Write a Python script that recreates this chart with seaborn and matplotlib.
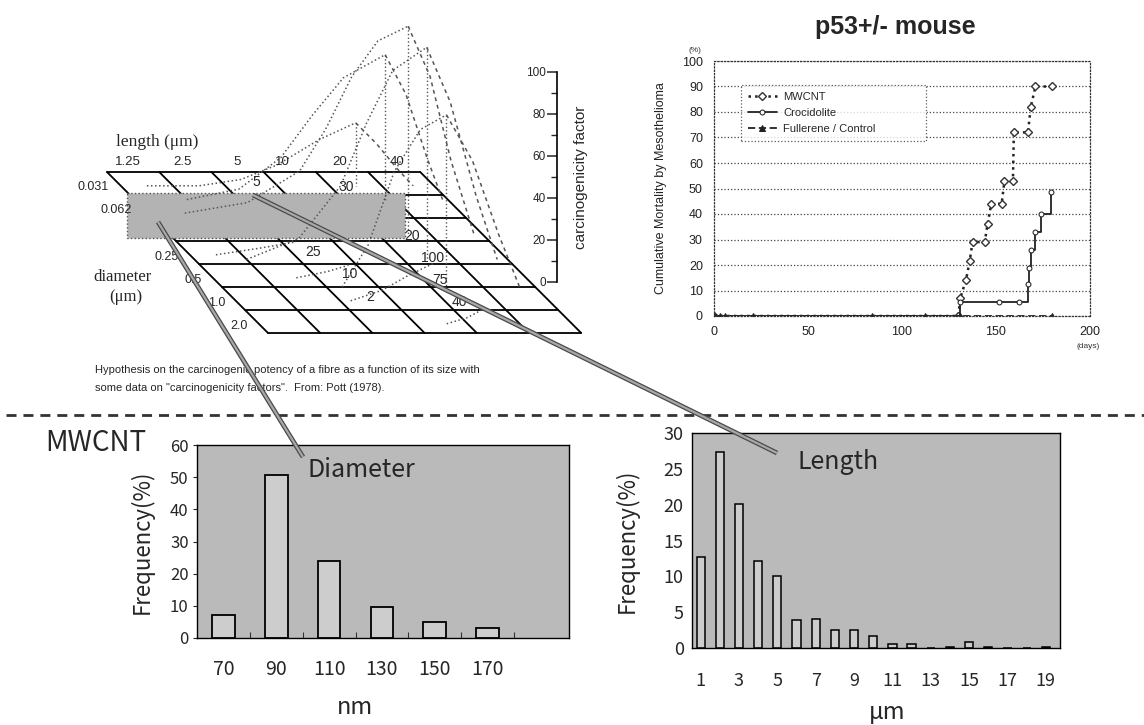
import matplotlib
matplotlib.use("Agg")
import matplotlib.pyplot as plt
from matplotlib.patches import Rectangle
import seaborn as sns

# ---------------- data ----------------
diam_cats = ['70', '90', '110', '130', '150', '170']
diam_freq = [7.1, 50.8, 24.0, 9.6, 4.9, 3.2]

len_cats = ['1', '2', '3', '4', '5', '6', '7', '8', '9', '10',
            '11', '12', '13', '14', '15', '16', '17', '18', '19']
len_freq = [12.7, 27.3, 20.1, 12.2, 10.1, 3.9, 4.05, 2.45, 2.45, 1.65,
            0.6, 0.6, 0.0, 0.2, 0.9, 0.2, 0.0, 0.0, 0.2]
len_ticklabels = ['1', '3', '5', '7', '9', '11', '13', '15', '17', '19']

mw_days = [0, 130, 131, 134, 136, 137.5, 144, 145.5, 147.5, 153, 154.5,
           159, 159.5, 167, 168.5, 171, 180]
mw_vals = [0, 0, 7, 14, 21.5, 29, 29, 36, 44, 44, 53, 53, 72, 72, 82, 90, 90]
cro_days = [0, 131, 151.7, 162, 167, 167.5, 168.5, 171, 174, 179]
cro_vals = [0, 5.6, 5.6, 5.6, 12.5, 19, 26, 33, 40, 48.6]
ctl_days = [0, 3, 6, 21, 84, 112, 131, 180]
ctl_vals = [0, 0, 0, 0, 0, 0, 0, 0]

# schematic (Pott 1978) diagram
length_labels = ['1.25', '2.5', '5', '10', '20', '40']
length_label_u = [0.6, 1.65, 2.7, 3.55, 4.65, 5.75]
diam_labels = ['0.031', '0.062', '0.25', '0.5', '1.0', '2.0']
diam_label_v = [0.65, 1.65, 3.7, 4.7, 5.7, 6.7]
factor_txt = ['5', '30', '20', '25', '100', '10', '75', '2', '40']
factor_u = [2.68, 4.3, 4.63, 2.41, 4.6, 2.68, 4.31, 2.64, 4.27]
factor_v = [0.43, 0.65, 2.77, 3.48, 3.72, 4.45, 4.68, 5.43, 5.65]
curve_rows = [0.6, 1.2, 2.7, 3.8, 5.0]
curve_rise_u = [[0.5, 1.5, 2.3, 3.0, 3.8, 4.5],
                [1.0, 2.0, 2.8, 3.4, 4.0, 4.8],
                [0.3, 1.5, 2.5, 3.0, 3.5, 4.0, 4.58],
                [1.0, 2.0, 2.8, 3.3, 3.8, 4.45],
                [2.3, 2.8, 3.3, 3.8, 4.3]]
curve_rise_z = [[0, 0, 3, 10, 22, 30],
                [0, 5, 20, 40, 58, 69],
                [10, 15, 30, 50, 75, 92, 99],
                [0, 10, 35, 65, 90, 101],
                [0, 20, 55, 75, 82]]
curve_fall_u = [[4.5, 4.9, 5.3, 5.6],
                [4.8, 5.2, 5.6, 5.9],
                [4.58, 5.0, 5.4, 5.84],
                [4.45, 4.9, 5.4, 5.8],
                [4.3, 4.8, 5.3, 5.7]]
curve_fall_z = [[30, 20, 8, 0],
                [69, 50, 20, 0],
                [99, 75, 35, 0],
                [101, 75, 30, 0],
                [82, 60, 25, 0]]
low_rows = [3.6, 4.6, 5.6, 6.6]
low_u = [[0.5, 1.3, 2.0], [1.6, 2.2, 2.6], [2.2, 2.8, 3.3, 3.8], [3.6, 4.0, 4.3]]
low_z = [[0, 3, 6], [0, 3, 6], [0, 5, 12, 18], [0, 3, 7]]

# ---------------- style ----------------
sns.set_theme(style="white")
plt.rcParams['font.family'] = ['Liberation Sans', 'DejaVu Sans']
JP = ['Noto Sans CJK JP', 'DejaVu Sans']
SERIF = ['Liberation Serif', 'DejaVu Serif']

W, H = 1144, 725
fig = plt.figure(figsize=(W / 100, H / 100), dpi=100)
fig.patch.set_facecolor('white')


def rect(l, t, r, b):
    return [l / W, 1 - b / H, (r - l) / W, (b - t) / H]


# ---------------- mortality chart ----------------
ax_m = fig.add_axes(rect(714, 61, 1090, 316))
ax_m.set_facecolor('white')
sns.lineplot(x=mw_days, y=mw_vals, ax=ax_m, color='#222222', linestyle=':',
             linewidth=1.8, marker='D', markersize=4.5, markerfacecolor='white',
             markeredgecolor='#333333', markeredgewidth=1.0,
             estimator=None, label='MWCNT')
sns.lineplot(x=cro_days, y=cro_vals, ax=ax_m, color='#222222', linestyle='-',
             linewidth=1.3, marker='o', markersize=3.5, markerfacecolor='white',
             markeredgecolor='#222222', drawstyle='steps-post',
             estimator=None, label='Crocidolite')
sns.lineplot(x=ctl_days, y=ctl_vals, ax=ax_m, color='#222222', linestyle=(0, (4, 2)),
             linewidth=1.3, marker='^', markersize=4, markerfacecolor='#222222',
             markeredgecolor='#222222', estimator=None, label='Fullerene / Control')
ax_m.set_xlim(0, 200)
ax_m.set_ylim(0, 100)
ax_m.set_xticks([0, 50, 100, 150, 200])
ax_m.set_yticks(range(0, 101, 10))
ax_m.tick_params(axis='both', length=0, labelsize=9, colors='#222222')
ax_m.tick_params(axis='y', pad=8)
ax_m.tick_params(axis='x', pad=7)
ax_m.yaxis.grid(True, linestyle=':', color='#444444', linewidth=0.9)
ax_m.xaxis.grid(False)
for s in ax_m.spines.values():
    s.set_linestyle(':')
    s.set_color('#333333')
    s.set_linewidth(0.9)
ax_m.set_xlabel('')
ax_m.set_ylabel('Cumulative Mortality by Mesothelioma', fontsize=9, color='#222222')
ax_m.yaxis.set_label_coords((667 - 714) / 376, 0.5)
leg = ax_m.legend(loc='upper left', bbox_to_anchor=(0.072, 0.678, 0.492, 0.228),
                  mode='expand', borderaxespad=0, fontsize=8, frameon=True,
                  fancybox=False, handlelength=2.6, labelspacing=0.55,
                  borderpad=0.6, handletextpad=0.6)
leg.get_frame().set_linestyle(':')
leg.get_frame().set_edgecolor('#333333')
leg.get_frame().set_linewidth(0.9)
fig.text(695 / W, 1 - 50 / H, '(%)', fontsize=6, ha='center', va='center', color='#333')
fig.text(1088 / W, 1 - 346 / H, '(days)', fontsize=6, ha='center', va='center', color='#333')
fig.text(895 / W, 1 - 27 / H, 'p53+/- mouse', fontsize=18, fontweight='bold',
         ha='center', va='center')

# ---------------- diameter histogram ----------------
ax_d = fig.add_axes(rect(197, 445, 569, 638))
ax_d.set_facecolor('#bababa')
sns.barplot(x=diam_cats, y=diam_freq, ax=ax_d, color='#cdcdcd', saturation=1,
            edgecolor='black', linewidth=1.3, width=0.43)
ax_d.set_xlim(-0.5, 6.54)
ax_d.set_ylim(0, 60)
ax_d.set_yticks(range(0, 61, 10))
ax_d.set_xticks([0.5, 1.5, 2.5, 3.5, 4.5, 5.5], minor=True)
ax_d.tick_params(axis='x', which='major', length=0, pad=15, labelsize=14)
ax_d.tick_params(axis='x', which='minor', direction='in', length=4, width=0.8,
                 color='#333', bottom=True)
ax_d.tick_params(axis='y', length=3, width=0.8, direction='out', left=True,
                 pad=3, labelsize=12)
for lab in ax_d.get_xticklabels() + ax_d.get_yticklabels():
    lab.set_family(JP)
for s in ax_d.spines.values():
    s.set_color('black')
    s.set_linewidth(1.0)
ax_d.set_xlabel('')
ax_d.set_ylabel('Frequency(%)', fontsize=16, family=JP)
ax_d.yaxis.set_label_coords((154 - 197) / 372, 0.5)
fig.text(355 / W, 1 - 707 / H, 'nm', fontsize=17, family=JP, ha='center', va='center')
fig.text(45 / W, 1 - 443 / H, 'MWCNT', fontsize=20, family=JP, ha='left', va='center')
fig.text(308 / W, 1 - 470 / H, 'Diameter', fontsize=18, family=JP, ha='left', va='center')

# ---------------- length histogram ----------------
ax_l = fig.add_axes(rect(692, 433, 1060, 648))
ax_l.set_facecolor('#bababa')
sns.barplot(x=len_cats, y=len_freq, ax=ax_l, color='#cdcdcd', saturation=1,
            edgecolor='black', linewidth=1.1, width=0.43)
ax_l.set_xlim(-0.45, 18.74)
ax_l.set_ylim(0, 30)
ax_l.set_yticks(range(0, 31, 5))
ax_l.set_xticks(range(0, 19, 2))
ax_l.set_xticklabels(len_ticklabels)
ax_l.tick_params(axis='x', length=0, pad=17, labelsize=13)
ax_l.tick_params(axis='y', length=0, pad=6, labelsize=13)
for lab in ax_l.get_xticklabels() + ax_l.get_yticklabels():
    lab.set_family(JP)
for s in ax_l.spines.values():
    s.set_color('black')
    s.set_linewidth(1.0)
ax_l.set_xlabel('')
ax_l.set_ylabel('Frequency(%)', fontsize=16, family=JP)
ax_l.yaxis.set_label_coords((639 - 692) / 368, 0.5)
fig.text(887 / W, 1 - 712 / H, 'μm', fontsize=17, family=JP, ha='center', va='center')
fig.text(797 / W, 1 - 462 / H, 'Length', fontsize=18, family=JP, ha='left', va='center')

# ---------------- carcinogenicity axis ----------------
ax_c = fig.add_axes(rect(557, 72, 559, 282))
ax_c.patch.set_alpha(0)
for k in ['top', 'right', 'bottom']:
    ax_c.spines[k].set_visible(False)
ax_c.spines['left'].set_color('black')
ax_c.spines['left'].set_linewidth(1.2)
ax_c.set_ylim(0, 100)
ax_c.set_yticks(range(0, 101, 20))
ax_c.set_yticks(range(10, 100, 20), minor=True)
ax_c.set_xticks([])
ax_c.tick_params(axis='y', which='major', left=True, length=7, width=1.1,
                 labelsize=8.5, pad=1, direction='out')
ax_c.tick_params(axis='y', which='minor', left=True, length=4, width=1.0,
                 direction='out')
ax_c.yaxis.set_label_position('right')
ax_c.set_ylabel('carcinogenicity factor', fontsize=11, labelpad=11)

# ---------------- overlay: schematic, separators, connectors ----------------
ax_o = fig.add_axes([0, 0, 1, 1])
ax_o.set_xlim(0, W)
ax_o.set_ylim(H, 0)
ax_o.axis('off')
ax_o.patch.set_alpha(0)

X0, Y0, DU, DV, ZS = 107, 172, 52.2, 23.0, 2.1


def proj(u, v, z=0.0):
    return X0 + u * DU + v * DV, Y0 + v * DV - z * ZS


for v in range(8):
    (xa, ya), (xb, yb) = proj(0, v), proj(6, v)
    ax_o.plot([xa, xb], [ya, yb], color='black', lw=1.3, zorder=2)
for u in range(7):
    (xa, ya), (xb, yb) = proj(u, 0), proj(u, 7)
    ax_o.plot([xa, xb], [ya, yb], color='black', lw=1.3, zorder=2)

ax_o.add_patch(Rectangle((127, 193), 278, 45, facecolor='#b3b3b3',
                         edgecolor='#555555', linestyle=':', lw=1.0, zorder=3))

for v, ru, rz, fu, fz in zip(curve_rows, curve_rise_u, curve_rise_z,
                             curve_fall_u, curve_fall_z):
    pts = [proj(a, v, b) for a, b in zip(ru, rz)]
    ax_o.plot([p[0] for p in pts], [p[1] for p in pts], color='#555555',
              lw=1.1, ls=':', zorder=4)
    pts = [proj(a, v, b) for a, b in zip(fu, fz)]
    ax_o.plot([p[0] for p in pts], [p[1] for p in pts], color='#555555',
              lw=1.1, ls=(0, (2.5, 2.5)), zorder=4)
    top, base = proj(ru[-1], v, rz[-1]), proj(ru[-1], v, 0)
    ax_o.plot([top[0], base[0]], [top[1], base[1]], color='#555555',
              lw=1.0, ls=':', zorder=4)
for v, lu, lz in zip(low_rows, low_u, low_z):
    pts = [proj(a, v, b) for a, b in zip(lu, lz)]
    ax_o.plot([p[0] for p in pts], [p[1] for p in pts], color='#555555',
              lw=1.1, ls=':', zorder=4)

for t, u, v in zip(factor_txt, factor_u, factor_v):
    x, y = proj(u, v)
    ax_o.text(x, y, t, fontsize=10, ha='center', va='center', zorder=5)
for t, u in zip(length_labels, length_label_u):
    x, y = proj(u, -0.45)
    ax_o.text(x, y, t, fontsize=9.5, ha='center', va='center', zorder=5)
for t, v in zip(diam_labels, diam_label_v):
    x, y = proj(0, v)
    ax_o.text(x - 13, y, t, fontsize=9, ha='right', va='center', zorder=5)

ax_o.text(157, 142, 'length (μm)', fontsize=12.5, family=SERIF, ha='center', va='center')
ax_o.text(123, 277, 'diameter', fontsize=12, family=SERIF, ha='center', va='center')
ax_o.text(126, 297, '(μm)', fontsize=12, family=SERIF, ha='center', va='center')
ax_o.text(95, 370, 'Hypothesis on the carcinogenic potency of a fibre as a function of its size with',
          fontsize=8, ha='left', va='center')
ax_o.text(95, 388, 'some data on "carcinogenicity factors".  From: Pott (1978).',
          fontsize=8, ha='left', va='center')

# dashed separator
ax_o.plot([6, W], [415, 415], color='#333333', lw=2.0, ls=(0, (3.6, 2.5)), zorder=6)

# connector bands
for xs, ys in [([158, 303], [222, 457]), ([253, 777], [195, 453])]:
    ax_o.plot(xs, ys, color='#4a4a4a', lw=3.4, solid_capstyle='butt', zorder=7)
    ax_o.plot(xs, ys, color='#a8a8a8', lw=1.6, solid_capstyle='butt', zorder=8)

fig.savefig('out.png', dpi=100, facecolor='white')
